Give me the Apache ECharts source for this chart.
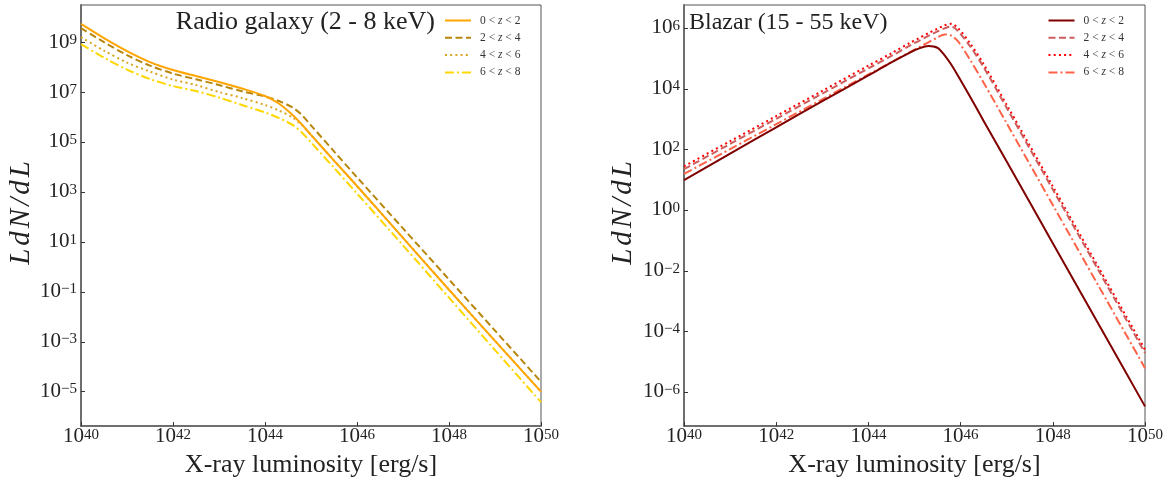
<!DOCTYPE html>
<html>
<head>
<meta charset="utf-8">
<script src="https://cdn.jsdelivr.net/npm/echarts@6/dist/echarts.min.js"></script>
<style>
html,body{margin:0;padding:0;background:#fff;}
#chart{width:1168px;height:483px;}
</style>
</head>
<body>
<div id="chart"></div>
<script>
// ---- data: log10 of X-ray luminosity and log10 of L dN/dL ----
const seriesNames = ['0 < z < 2', '2 < z < 4', '4 < z < 6', '6 < z < 8'];

const radioLogL = [40, 40.5, 41, 41.5, 42, 42.5, 43, 43.5, 44, 44.3, 44.6, 44.8, 45, 45.5, 46, 47, 48, 49, 50];
const radio_z0_2 = [9.75, 9.18, 8.66, 8.22, 7.90, 7.66, 7.42, 7.16, 6.86, 6.56, 6.10, 5.72, 5.30, 4.27, 3.25, 1.17, -0.91, -2.96, -5.00];
const radio_z2_4 = [9.58, 9.02, 8.50, 8.08, 7.76, 7.53, 7.30, 7.05, 6.84, 6.66, 6.40, 6.10, 5.68, 4.64, 3.60, 1.55, -0.50, -2.55, -4.60];
const radio_z4_6 = [9.22, 8.68, 8.20, 7.84, 7.52, 7.30, 7.02, 6.78, 6.50, 6.28, 6.00, 5.70, 5.30, 4.27, 3.25, 1.17, -0.91, -2.96, -5.00];
const radio_z6_8 = [8.94, 8.40, 7.92, 7.54, 7.26, 7.06, 6.80, 6.50, 6.20, 5.98, 5.70, 5.40, 5.00, 3.98, 2.95, 0.87, -1.23, -3.33, -5.42];

const blazarLogL = [40, 41, 42, 43, 44, 44.5, 44.9, 45.1, 45.3, 45.5, 45.65, 45.8, 45.95, 46.2, 46.5, 47, 48, 49, 50];
const blazar_z0_2 = [1.00, 1.87, 2.74, 3.60, 4.45, 4.88, 5.20, 5.34, 5.42, 5.36, 5.12, 4.80, 4.42, 3.76, 2.95, 1.61, -1.08, -3.77, -6.46];
const blazar_z2_4 = [1.36, 2.19, 3.02, 3.85, 4.68, 5.09, 5.43, 5.59, 5.75, 5.90, 6.00, 6.06, 5.90, 5.42, 4.72, 3.38, 0.69, -2.00, -4.70];
const blazar_z4_6 = [1.45, 2.28, 3.11, 3.94, 4.77, 5.18, 5.52, 5.68, 5.84, 5.99, 6.10, 6.15, 6.00, 5.52, 4.82, 3.48, 0.79, -1.90, -4.59];
const blazar_z6_8 = [1.20, 2.02, 2.84, 3.66, 4.48, 4.89, 5.22, 5.38, 5.54, 5.70, 5.80, 5.76, 5.56, 4.98, 4.21, 2.87, 0.18, -2.51, -5.20];

const xTickExps = [40, 42, 44, 46, 48, 50];
const radioTickExps = [-5, -3, -1, 1, 3, 5, 7, 9];
const blazarTickExps = [-6, -4, -2, 0, 2, 4, 6];

const radioTitle = 'Radio galaxy (2 - 8 keV)';
const blazarTitle = 'Blazar (15 - 55 keV)';
const xName = 'X-ray luminosity [erg/s]';
const yNameChars = ['L', 'd', 'N', '/', 'd', 'L'];

// ---- styling ----
const FONT = '"Liberation Serif", "Times New Roman", serif';
const radioColors = ['#ffa500', '#b8860b', '#daa520', '#ffd700'];
const blazarColors = ['#800000', '#cd5c5c', '#ff0000', '#ff6347'];
const dashes = ['solid', [7, 3.5], [2, 3.2], [9, 3, 2, 3]];
const zOrder = [5, 4, 3, 2];

function powLabel(v) {
  const e = v < 0 ? '\u2212' + (-v) : String(v);
  return '{b|10}{s|' + e + '}';
}
const tickRich = {
  b: {fontFamily: FONT, fontSize: 21, color: '#222', lineHeight: 20, padding: [2, 0, 0, 0], verticalAlign: 'bottom'},
  s: {fontFamily: FONT, fontSize: 15, color: '#222', lineHeight: 14, verticalAlign: 'top'}
};

function xAxisFor(gi) {
  return {
    type: 'value', gridIndex: gi, min: 40, max: 50,
    name: xName, nameLocation: 'middle', nameGap: 18,
    nameTextStyle: {fontFamily: FONT, fontSize: 26, color: '#222'},
    axisLine: {show: true, onZero: false, lineStyle: {color: '#6e6e6e', width: 2}},
    axisTick: {show: true, inside: true, length: 4, customValues: xTickExps, lineStyle: {color: '#333', width: 1}},
    axisLabel: {customValues: xTickExps, formatter: powLabel, rich: tickRich, margin: 1, hideOverlap: false},
    splitLine: {show: false}
  };
}
function yAxisFor(gi, mn, mx, ticks) {
  return {
    type: 'value', gridIndex: gi, min: mn, max: mx,
    axisLine: {show: true, onZero: false, lineStyle: {color: '#6e6e6e', width: 2}},
    axisTick: {show: true, inside: true, length: 4, customValues: ticks, lineStyle: {color: '#333', width: 1}},
    axisLabel: {customValues: ticks, formatter: powLabel, rich: tickRich, margin: 4, hideOverlap: false},
    splitLine: {show: false}
  };
}

function buildSeries(gi, xs, ysList, colors, suffix) {
  return ysList.map((ys, i) => ({
    name: seriesNames[i] + suffix, type: 'line', xAxisIndex: gi, yAxisIndex: gi,
    data: xs.map((x, k) => [x, ys[k]]),
    symbol: 'none', showSymbol: false, smooth: 0.3,
    z: zOrder[i],
    lineStyle: {color: colors[i], width: 2, type: dashes[i]},
    itemStyle: {color: colors[i]},
    emphasis: {disabled: true}
  }));
}

function legendFor(left, suffix) {
  return {
    orient: 'vertical', left: left, top: 14.5, padding: 0,
    itemWidth: 26, itemHeight: 12, itemGap: 5.3,
    data: seriesNames.map(n => ({name: n + suffix})),
    selectedMode: false,
    itemStyle: {color: 'rgba(0,0,0,0)', borderColor: 'rgba(0,0,0,0)', borderWidth: 0, opacity: 0},
    formatter: function (name) {
      const p = name.replace('\u200b', '').split('z');
      return '{f|' + p[0] + '}{i|z}{n|' + p[1] + '}';
    },
    textStyle: {
      fontFamily: FONT, fontSize: 11.5, color: '#333',
      rich: {
        f: {fontFamily: FONT, fontSize: 11.5, color: '#333', padding: [0, 0, 0, 4]},
        i: {fontFamily: FONT, fontSize: 11.5, color: '#333', fontStyle: 'italic'},
        n: {fontFamily: FONT, fontSize: 11.5, color: '#333'}
      }
    }
  };
}

function yNameText() {
  return yNameChars.map((c) => '{c|' + c + '}').join('');
}
const yNameRich = {c: {fontFamily: FONT, fontSize: 29, fontStyle: 'italic', color: '#222', padding: [0, 1.5, 0, 1.5]}};

const chart = echarts.init(document.getElementById('chart'), null, {renderer: 'canvas'});
const series = [].concat(
  buildSeries(0, radioLogL, [radio_z0_2, radio_z2_4, radio_z4_6, radio_z6_8], radioColors, ''),
  buildSeries(1, blazarLogL, [blazar_z0_2, blazar_z2_4, blazar_z4_6, blazar_z6_8], blazarColors, '\u200b')
);

chart.setOption({
  animation: false,
  backgroundColor: '#ffffff',
  grid: [
    {left: 81, top: 5, width: 460, bottom: 56.3, show: true, borderColor: '#555', borderWidth: 1},
    {left: 684, top: 5, width: 461, bottom: 56.3, show: true, borderColor: '#555', borderWidth: 1}
  ],
  xAxis: [xAxisFor(0), xAxisFor(1)],
  yAxis: [yAxisFor(0, -6.38, 10.51, radioTickExps), yAxisFor(1, -7.11, 6.77, blazarTickExps)],
  legend: [legendFor(444, ''), legendFor(1047.5, '\u200b')],
  series: series,
  graphic: [
    {type: 'text', x: 435, y: 22.5, z: 10, style: {text: radioTitle, font: '26px ' + FONT, fill: '#222', align: 'right', verticalAlign: 'middle'}},
    {type: 'text', x: 689, y: 23, z: 10, style: {text: blazarTitle, font: '24px ' + FONT, fill: '#222', align: 'left', verticalAlign: 'middle'}},
    {type: 'text', x: 21, y: 213, rotation: Math.PI / 2, style: {text: yNameText(), rich: yNameRich, fill: '#222', align: 'center', verticalAlign: 'middle'}},
    {type: 'text', x: 623, y: 213, rotation: Math.PI / 2, style: {text: yNameText(), rich: yNameRich, fill: '#222', align: 'center', verticalAlign: 'middle'}}
  ]
});
</script>
</body>
</html>
